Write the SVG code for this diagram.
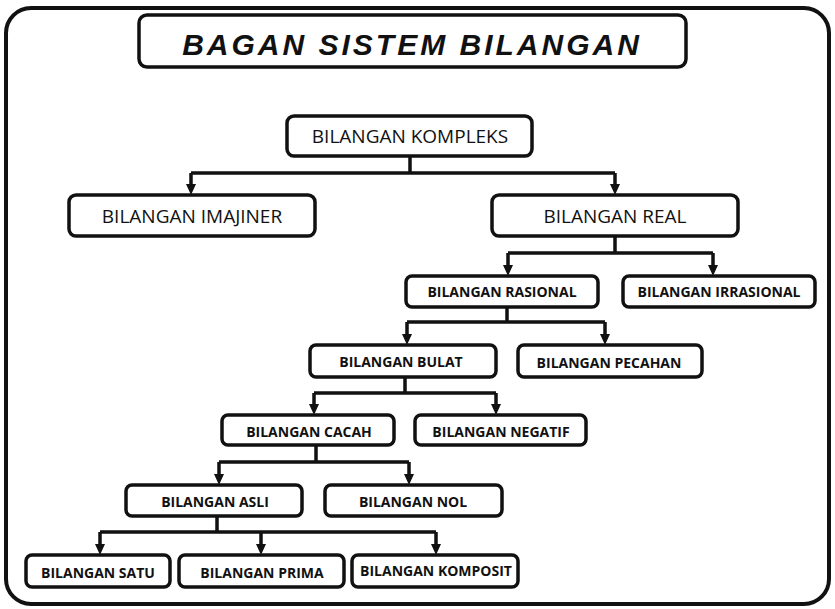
<svg xmlns="http://www.w3.org/2000/svg" width="835" height="609" viewBox="0 0 835 609">
<style>
.box{fill:#fff;stroke:#111;stroke-width:3.5}
.t{font-family:"Open Sans","Liberation Sans",sans-serif;fill:#111;text-anchor:middle}
.big{font-size:19px}
.sm{font-size:14px;font-weight:bold}
.c{fill:none;stroke:#111;stroke-width:3.5}
</style>
<defs><marker id="a" markerWidth="6" markerHeight="6" refX="3" refY="5" orient="auto" markerUnits="userSpaceOnUse" viewBox="0 0 6 6"><path d="M0,0 L6,0 L3,6z" fill="#111"/></marker>
<marker id="ah" viewBox="0 0 10 10" refX="5" refY="10" markerWidth="10" markerHeight="10" markerUnits="userSpaceOnUse" orient="auto-start-reverse"><path d="M0,0 L10,0 L5,10z" fill="#111"/></marker></defs>
<rect x="0" y="0" width="835" height="609" fill="#fff"/>
<rect x="6" y="8" width="823" height="596" rx="25" fill="#fff" stroke="#111" stroke-width="4"/>
<g id="title"><rect class="box" x="139" y="15" width="547" height="52" rx="8" stroke-width="4"/><text x="412" y="55" font-family="Liberation Sans,sans-serif" font-size="30" font-weight="900" font-style="italic" text-anchor="middle" letter-spacing="3" fill="#111">BAGAN SISTEM BILANGAN</text></g>
<g id="connectors">
<path class="c" d="M410 156V173M191 173H615M191 173V186M615 173V186"/>
<path class="c" d="M615 236V253M508 253H713M508 253V267M713 253V267"/>
<path class="c" d="M507 307V322M407 322H605M407 322V336M605 322V336"/>
<path class="c" d="M405 377V393M314 393H496M314 393V406M496 393V406"/>
<path class="c" d="M316 445V462M219 462H409M219 462V476M409 462V476"/>
<path class="c" d="M217 516V532M100 532H436M100 532V546M261 532V546M436 532V546"/>
<g fill="#111">
<path d="M186 184h10l-5 11z M610 184h10l-5 11z M503 265h10l-5 11z M708 265h10l-5 11z M402 334h10l-5 11z M600 334h10l-5 11z M309 404h10l-5 11z M491 404h10l-5 11z M214 474h10l-5 11z M404 474h10l-5 11z M95 544h10l-5 11z M256 544h10l-5 11z M431 544h10l-5 11z"/>
</g>
</g>
<g id="kompleks"><rect class="box" x="287" y="116" width="245" height="40" rx="7"/><text class="t big" x="410" y="143">BILANGAN KOMPLEKS</text></g>
<g id="imajiner"><rect class="box" x="69" y="195" width="246" height="41" rx="7"/><text class="t big" x="192" y="223">BILANGAN IMAJINER</text></g>
<g id="real"><rect class="box" x="492" y="195" width="246" height="41" rx="7"/><text class="t big" x="615" y="223">BILANGAN REAL</text></g>
<g id="rasional"><rect class="box" x="406" y="276" width="192" height="31" rx="6"/><text class="t sm" x="502" y="297">BILANGAN RASIONAL</text></g>
<g id="irrasional"><rect class="box" x="623" y="276" width="192" height="31" rx="6"/><text class="t sm" x="719" y="297" font-size="13">BILANGAN IRRASIONAL</text></g>
<g id="bulat"><rect class="box" x="310" y="345" width="186" height="32" rx="6"/><text class="t sm" x="401" y="367">BILANGAN BULAT</text></g>
<g id="pecahan"><rect class="box" x="518" y="345" width="184" height="32" rx="6"/><text class="t sm" x="609" y="368" font-size="13">BILANGAN PECAHAN</text></g>
<g id="cacah"><rect class="box" x="222" y="415" width="172" height="30" rx="6"/><text class="t sm" x="309" y="437" font-size="13">BILANGAN CACAH</text></g>
<g id="negatif"><rect class="box" x="415" y="415" width="171" height="30" rx="6"/><text class="t sm" x="501" y="437" font-size="13">BILANGAN NEGATIF</text></g>
<g id="asli"><rect class="box" x="126" y="485" width="176" height="31" rx="6"/><text class="t sm" x="215" y="507" font-size="13">BILANGAN ASLI</text></g>
<g id="nol"><rect class="box" x="325" y="485" width="177" height="31" rx="6"/><text class="t sm" x="413" y="507" font-size="13">BILANGAN NOL</text></g>
<g id="satu"><rect class="box" x="26" y="555" width="144" height="32" rx="6"/><text class="t sm" x="98" y="578" font-size="13">BILANGAN SATU</text></g>
<g id="prima"><rect class="box" x="179" y="555" width="165" height="32" rx="6"/><text class="t sm" x="262" y="578" font-size="13">BILANGAN PRIMA</text></g>
<g id="komposit"><rect class="box" x="352" y="555" width="166" height="32" rx="6"/><text class="t sm" x="436" y="576" font-size="12">BILANGAN KOMPOSIT</text></g>
</svg>
